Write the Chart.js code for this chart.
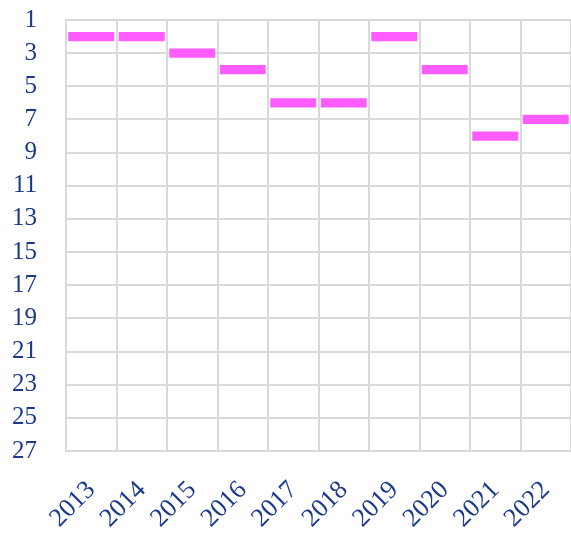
<!DOCTYPE html>
<html>
<head>
<meta charset="utf-8">
<script src="https://cdn.jsdelivr.net/npm/chart.js@4"></script>
<style>
  html, body { margin: 0; padding: 0; background: #fff; }
  #wrap { width: 571px; height: 533px; }
</style>
</head>
<body>
<div id="wrap"><canvas id="rankChart"></canvas></div>
<script>
/* ============================================================
   DATI — posizione in classifica per anno
============================================================ */
const years = ["2013", "2014", "2015", "2016", "2017", "2018", "2019", "2020", "2021", "2022"];
const ranks = [2, 2, 3, 4, 6, 6, 2, 4, 8, 7];
const rankTicks = [1, 3, 5, 7, 9, 11, 13, 15, 17, 19, 21, 23, 25, 27];

const textColor = "#1b3a8c";
const gridColor = "#d9d9d9";

/* ============================================================
   GRAFICO — barre flottanti sottili attorno al valore
============================================================ */
function initRankChart() {
    const ctx = document.getElementById("rankChart");
    if (!ctx) return;

    const half = 0.28;

    new Chart(ctx, {
        type: "bar",
        data: {
            labels: years,
            datasets: [{
                data: ranks.map(r => [r - half, r + half]),
                backgroundColor: "#ff5cff",
                borderSkipped: false,
                barPercentage: 0.91,
                categoryPercentage: 1
            }]
        },
        options: {
            responsive: true,
            maintainAspectRatio: false,
            animation: false,
            layout: { padding: 0 },
            plugins: { legend: { display: false }, tooltip: { enabled: false } },
            scales: {
                x: {
                    afterFit: scale => {
                        scale.paddingLeft = 0;
                        scale.paddingRight = 0;
                        scale.height = 82;
                    },
                    grid: { color: gridColor, lineWidth: 2, drawTicks: false },
                    border: { color: gridColor, width: 2 },
                    ticks: {
                        color: textColor,
                        font: { family: "Liberation Serif", size: 26 },
                        autoSkip: false,
                        minRotation: 45,
                        maxRotation: 45,
                        padding: 24
                    }
                },
                y: {
                    reverse: true,
                    min: 1,
                    max: 27,
                    afterBuildTicks: scale => {
                        scale.ticks = rankTicks.map(v => ({ value: v }));
                    },
                    afterFit: scale => {
                        scale.width = 66;
                        scale.paddingTop = 20;
                        scale.paddingBottom = 0;
                    },
                    grid: { color: gridColor, lineWidth: 2, drawTicks: false },
                    border: { color: gridColor, width: 2 },
                    ticks: {
                        color: textColor,
                        font: { family: "Liberation Serif", size: 25 },
                        autoSkip: false,
                        padding: 29
                    }
                }
            }
        }
    });
}
initRankChart();
</script>
</body>
</html>
